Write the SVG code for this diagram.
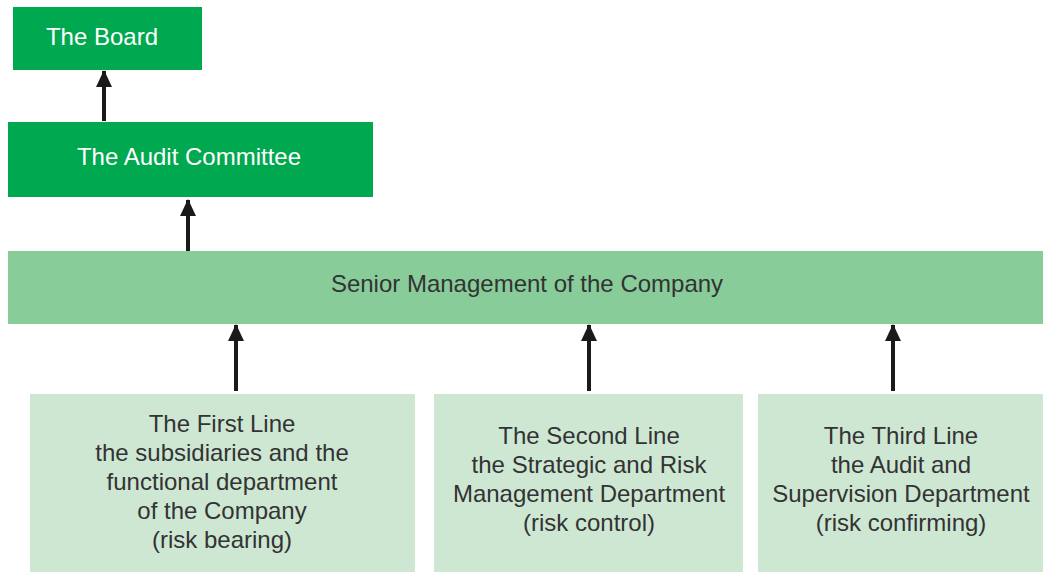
<svg xmlns="http://www.w3.org/2000/svg" width="1043" height="572" viewBox="0 0 1043 572">
  <defs>
    <style>
      .dark { fill: #00a84f; }
      .mid { fill: #88cc99; }
      .light { fill: #cee7d3; }
      text { font-family: "Liberation Sans", Arial, sans-serif; font-size: 24px; text-anchor: middle; }
      .wt { fill: #ffffff; }
      .bk { fill: #333333; }
      .conn { stroke: #1a1a1a; stroke-width: 4; fill: none; marker-end: url(#head); }
    </style>
    <!-- arrowhead drawn along +x, tip at the line end -->
    <marker id="head" viewBox="0 0 17 16" refX="16" refY="8" markerWidth="17" markerHeight="16" markerUnits="userSpaceOnUse" orient="auto">
      <path d="M0,0 L17,8 L0,16 Z" fill="#1a1a1a"/>
    </marker>
  </defs>

  <g id="board">
    <rect class="dark" x="13" y="7" width="189" height="63"/>
    <text class="wt" x="102" y="45">The Board</text>
  </g>

  <g id="audit-committee">
    <rect class="dark" x="8" y="122" width="365" height="75"/>
    <text class="wt" x="189" y="165">The Audit Committee</text>
  </g>

  <g id="senior-management">
    <rect class="mid" x="8" y="251" width="1035" height="73"/>
    <text class="bk" x="527" y="292">Senior Management of the Company</text>
  </g>

  <g id="first-line">
    <rect class="light" x="30" y="394" width="385" height="178"/>
    <text class="bk" x="222" y="432">The First Line</text>
    <text class="bk" x="222" y="461">the subsidiaries and the</text>
    <text class="bk" x="222" y="490">functional department</text>
    <text class="bk" x="222" y="519">of the Company</text>
    <text class="bk" x="222" y="548">(risk bearing)</text>
  </g>

  <g id="second-line">
    <rect class="light" x="434" y="394" width="309" height="178"/>
    <text class="bk" x="589" y="444">The Second Line</text>
    <text class="bk" x="589" y="473">the Strategic and Risk</text>
    <text class="bk" x="589" y="502">Management Department</text>
    <text class="bk" x="589" y="531">(risk control)</text>
  </g>

  <g id="third-line">
    <rect class="light" x="758" y="394" width="285" height="178"/>
    <text class="bk" x="901" y="444">The Third Line</text>
    <text class="bk" x="901" y="473">the Audit and</text>
    <text class="bk" x="901" y="502">Supervision Department</text>
    <text class="bk" x="901" y="531">(risk confirming)</text>
  </g>

  <g id="connectors">
    <line class="conn" x1="104" y1="121" x2="104" y2="71"/>
    <line class="conn" x1="188" y1="251" x2="188" y2="200"/>
    <line class="conn" x1="236" y1="391" x2="236" y2="325"/>
    <line class="conn" x1="589" y1="391" x2="589" y2="325"/>
    <line class="conn" x1="893" y1="391" x2="893" y2="325"/>
  </g>
</svg>
